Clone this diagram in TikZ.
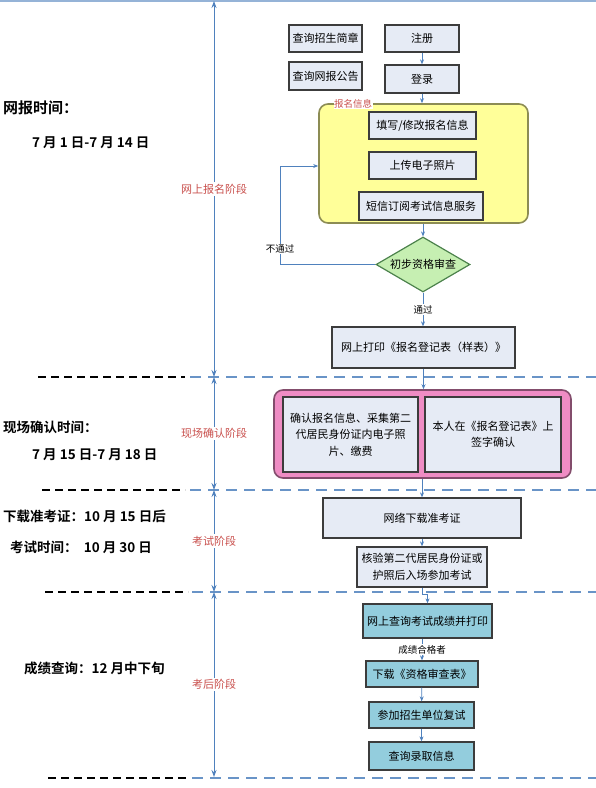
\documentclass[tikz,border=0pt]{standalone}
\usepackage{fontspec}
\setmainfont{Noto Sans CJK SC}[BoldFont={Noto Sans CJK SC Bold}]
\usetikzlibrary{shapes.geometric,arrows.meta,positioning}
\definecolor{lblue}{HTML}{4F81BD}
\definecolor{sred}{HTML}{C9504D}
\definecolor{bfill}{HTML}{E6EBF5}
\definecolor{bline}{HTML}{3C3C3C}
\definecolor{tfill}{HTML}{93CDDD}
\definecolor{yfill}{HTML}{FFFF99}
\definecolor{pfill}{HTML}{EF8CC4}
\definecolor{dfill}{HTML}{C6EFB2}

\begin{document}
\begin{tikzpicture}[
  x=1pt, y=-1pt,
  fbox/.style={rectangle, draw=bline, line width=1.3pt, fill=#1, inner sep=2pt, align=center, font=\fontsize{11}{16.5}\selectfont},
  fbox/.default=bfill,
  grp/.style={rectangle, draw=#1!55!black, fill=#1, line width=1.6pt, rounded corners=9pt},
  dmd/.style={diamond, draw=green!30!black!70, fill=dfill, line width=1.2pt, aspect=1.7, inner sep=0pt, minimum width=94pt, minimum height=55pt, font=\fontsize{11}{13}\selectfont},
  arr/.style={-{Stealth[length=5pt,width=4pt]}, draw=lblue, line width=0.8pt},
  stg/.style={{Stealth[length=7pt,width=5pt]}-{Stealth[length=7pt,width=5pt]}, draw=lblue, line width=1pt},
  stlbl/.style={fill=white, text=sred, inner sep=1.5pt, font=\fontsize{11}{13}\selectfont},
  lbl/.style={fill=white, inner sep=1pt, font=\fontsize{9.5}{11}\selectfont},
  dvb/.style={draw=lblue!85, line width=2pt, dash pattern=on 11pt off 7pt},
  dvk/.style={draw=black, line width=2pt, dash pattern=on 8pt off 5pt},
  lft/.style={anchor=west, inner sep=0pt, font=\bfseries\fontsize{13.5}{15}\selectfont}
]
  \useasboundingbox (0,0) rectangle (596,788);

  \coordinate (tl) at (0,1);
  \coordinate (tr) at (596,1);
  \draw[draw=lblue!60, line width=1.5pt] (tl) -- (tr);

  \coordinate (v0) at (214,1);
  \coordinate (v1) at (214,377);
  \coordinate (v2) at (214,490);
  \coordinate (v3) at (214,592);
  \coordinate (v4) at (214,777);

  \draw[dvk] (38,377) -- (185,377);
  \draw[dvb] (190,377) -- (596,377);
  \draw[dvk] (42,490) -- (185,490);
  \draw[dvb] (190,490) -- (596,490);
  \draw[dvk] (45,592) -- (188,592);
  \draw[dvb] (192,592) -- (596,592);
  \draw[dvk] (48,778) -- (188,778);
  \draw[dvb] (192,778) -- (596,778);

  \draw[stg] (v0) -- node[stlbl] {网上报名阶段} (v1);
  \draw[stg] (v1) -- node[stlbl] {现场确认阶段} (v2);
  \draw[stg] (v2) -- node[stlbl] {考试阶段} (v3);
  \draw[stg] (v3) -- node[stlbl] {考后阶段} (v4);

  \node[lft, font=\bfseries\fontsize{15}{17}\selectfont] (wbt) at (3,108) {网报时间：};
  \node[lft] (wbd) at (32,143) {7 月 1 日-7 月 14 日};
  \node[lft] (xct) at (3,427) {现场确认时间：};
  \node[lft] (xcd) at (32,455) {7 月 15 日-7 月 18 日};
  \node[lft] (xzt) at (3,516) {下载准考证：10 月 15 日后};
  \node[lft] (kst) at (10,547) {考试时间：\ \ 10 月 30 日};
  \node[lft] (cjt) at (24,668) {成绩查询：12 月中下旬};

  \node[fbox, minimum width=73pt, minimum height=27pt] (zs) at (325.5,38.5) {查询招生简章};
  \node[fbox, minimum width=73pt, minimum height=28pt] (wb) at (325.5,76) {查询网报公告};
  \node[fbox, minimum width=74pt, minimum height=27pt] (zc) at (422,38.5) {注册};
  \node[fbox, minimum width=74pt, minimum height=28pt] (dl) at (422,79) {登录};

  \node[grp=yfill, minimum width=209pt, minimum height=119pt] (bm) at (423.5,163.5) {};
  \node[fill=white, text=sred, inner sep=0.5pt, font=\fontsize{9.5}{11}\selectfont] (bml) at (353,104) {报名信息};
  \node[fbox, minimum width=107pt, minimum height=27pt] (tx) at (422.5,125.5) {填写/修改报名信息};
  \node[fbox, minimum width=107pt, minimum height=27pt] (sc) at (422.5,165.5) {上传电子照片};
  \node[fbox, minimum width=124pt, minimum height=28pt] (dx) at (421,206) {短信订阅考试信息服务};

  \node[dmd] (sh) at (423,264.5) {初步资格审查};
  \node[fbox, minimum width=183pt, minimum height=41pt] (tb) at (423.5,347.5) {网上打印《报名登记表（样表）》};

  \node[grp=pfill, minimum width=297pt, minimum height=88pt] (xc) at (422.5,434) {};
  \node[fbox, minimum width=135pt, minimum height=75pt] (qr) at (350.5,434.5) {确认报名信息、采集第二\\代居民身份证内电子照\\片、缴费};
  \node[fbox, minimum width=136pt, minimum height=75pt] (qz) at (493,434.5) {本人在《报名登记表》上\\签字确认};

  \node[fbox, minimum width=198pt, minimum height=40pt] (xz) at (422,518) {网络下载准考证};
  \node[fbox, minimum width=130pt, minimum height=40pt] (hy) at (422,567) {核验第二代居民身份证或\\护照后入场参加考试};

  \node[fbox=tfill, minimum width=129pt, minimum height=34pt] (cj) at (427.5,621) {网上查询考试成绩并打印};
  \node[fbox=tfill, minimum width=112pt, minimum height=26pt] (zg) at (422,674) {下载《资格审查表》};
  \node[fbox=tfill, minimum width=105pt, minimum height=26pt] (fs) at (421.5,715) {参加招生单位复试};
  \node[fbox=tfill, minimum width=105pt, minimum height=28pt] (lq) at (421.5,756) {查询录取信息};

  \coordinate (fb) at (280,166);
  \draw[arr] (zc) -- (dl);
  \draw[arr] (dl) -- (dl |- bm.north);
  \draw[arr] (sh |- bm.south) -- (sh);
  \draw[arr] (sh.west) -| (fb) -- (fb -| bm.west);
  \node[lbl] (btg) at (280,249) {不通过};
  \draw[arr] (sh) -- node[lbl] {通过} (sh |- tb.north);
  \draw[arr] (tb) -- (tb |- xc.north);
  \draw[arr] (xc.south -| xz) -- (xz);
  \draw[arr] (xz) -- (hy);
  \draw[arr] (hy.south) -- ++(0,7) -| (cj.north);
  \draw[arr] (cj.south -| zg.north) -- node[lbl] {成绩合格者} (zg.north);
  \draw[arr] (zg) -- (fs);
  \draw[arr] (fs) -- (lq);
\end{tikzpicture}
\end{document}
